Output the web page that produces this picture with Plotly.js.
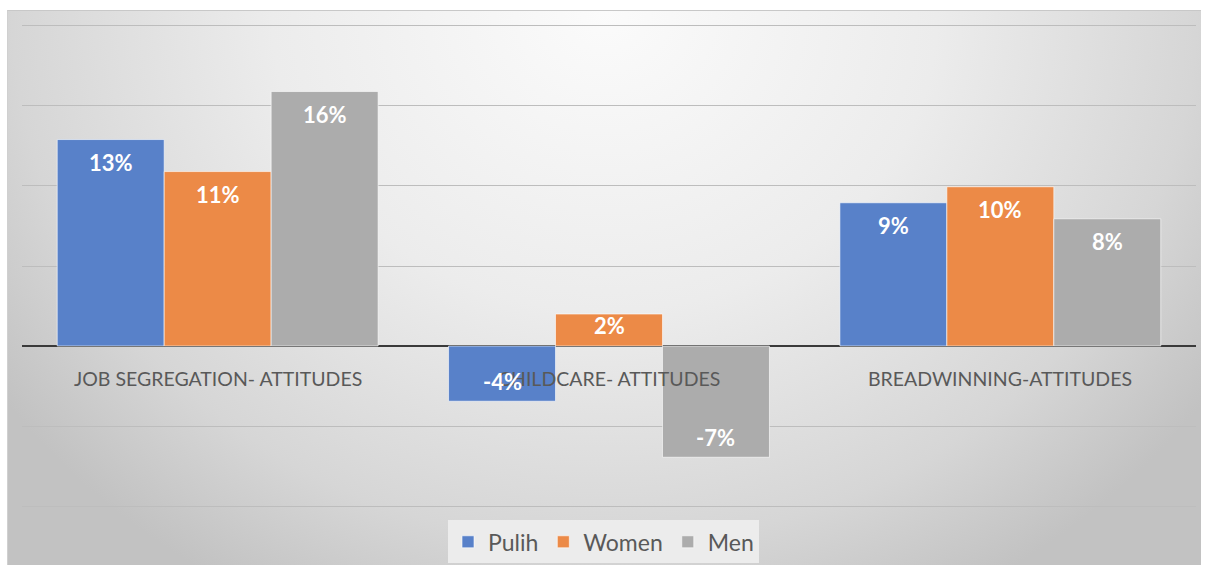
<!DOCTYPE html>
<html>
<head>
<meta charset="utf-8">
<script src="https://cdn.plot.ly/plotly-3.0.1.min.js"></script>
<style>
  html, body { margin:0; padding:0; background:#fff; }
  #bg { position:absolute; left:7px; top:10px; width:1193px; height:555px;
        border-top:1px solid #c8c8c8; border-left:1px solid #d0d0d0;
        background: radial-gradient(ellipse 62% 120% at 50% 0%, #fbfbfb 0%, #ececec 45%, #d6d6d6 80%, #c2c2c2 100%); }
  #chart { position:absolute; left:0; top:0; width:1207px; height:565px; }
</style>
</head>
<body>
<div id="bg"></div>
<div id="chart"></div>
<script>
const categories = ["JOB SEGREGATION- ATTITUDES", "CHILDCARE- ATTITUDES", "BREADWINNING-ATTITUDES"];
const seriesNames = ["Pulih", "Women", "Men"];
const pulih  = [12.9, -3.45, 8.95];
const women  = [10.9, 2.0, 9.95];
const men    = [15.9, -6.95, 7.95];
const pulihLabels = ["13%", "-4%", "9%"];
const womenLabels = ["11%", "2%", "10%"];
const menLabels   = ["16%", "-7%", "8%"];

const colors = ["#5881c9", "#ec8a47", "#acacac"];
const fontFam = "Lato, 'Open Sans', sans-serif";
const allVals = [pulih, women, men];
const allLabels = [pulihLabels, womenLabels, menLabels];

const data = seriesNames.map((name, i) => ({
  type: "bar", name: name, x: categories, y: allVals[i],
  marker: {color: colors[i], line: {color: "rgba(255,255,255,0.6)", width: 1}},
  hoverinfo: "x+y+name"
}));

// Layout constants (style only)
const plotW = 1207 - 22 - 11;
const bargap = 0.18;
const barPx = plotW / categories.length * (1 - bargap) / seriesNames.length;

const annotations = [];
categories.forEach(c => annotations.push({
  x: c, y: 0, xref: "x", yref: "y", yshift: -32, showarrow: false,
  text: c, font: {family: fontFam, size: 19.5, color: "#595959"}
}));
seriesNames.forEach((name, i) => {
  categories.forEach((c, j) => {
    const v = allVals[i][j];
    const small = Math.abs(v) < 3;
    annotations.push({
      x: c, y: v, xref: "x", yref: "y", showarrow: false,
      xshift: (i - 1) * barPx,
      yshift: v >= 0 ? (small ? -11 : -23) : 20,
      text: allLabels[i][j],
      font: {family: fontFam, size: 22, color: "#ffffff", weight: 700}
    });
  });
});

const layout = {
  width: 1207, height: 565,
  margin: {l: 22, r: 11, t: 24, b: 57, autoexpand: false},
  paper_bgcolor: "rgba(0,0,0,0)", plot_bgcolor: "rgba(0,0,0,0)",
  barmode: "group", bargap: bargap, bargroupgap: 0,
  showlegend: true,
  legend: {orientation: "h", x: 0.5, xanchor: "center", xref: "container",
           y: 0.041, yanchor: "middle", yref: "container",
           bgcolor: "rgba(238,238,238,0.9)", borderwidth: 0,
           font: {family: fontFam, size: 23, color: "#595959"},
           traceorder: "normal", itemclick: false},
  xaxis: {showticklabels: false, showgrid: false, zeroline: false, showline: false, fixedrange: true},
  yaxis: {range: [-10.12, 20.12], dtick: 5, tick0: 0, showticklabels: false, showgrid: true,
          gridcolor: "#bdbdbd", gridwidth: 1, zeroline: true, zerolinecolor: "#3a3a3a", zerolinewidth: 1.5,
          showline: false, fixedrange: true},
  annotations: annotations
};

Plotly.newPlot("chart", data, layout, {displayModeBar: false, staticPlot: true});
</script>
</body>
</html>
